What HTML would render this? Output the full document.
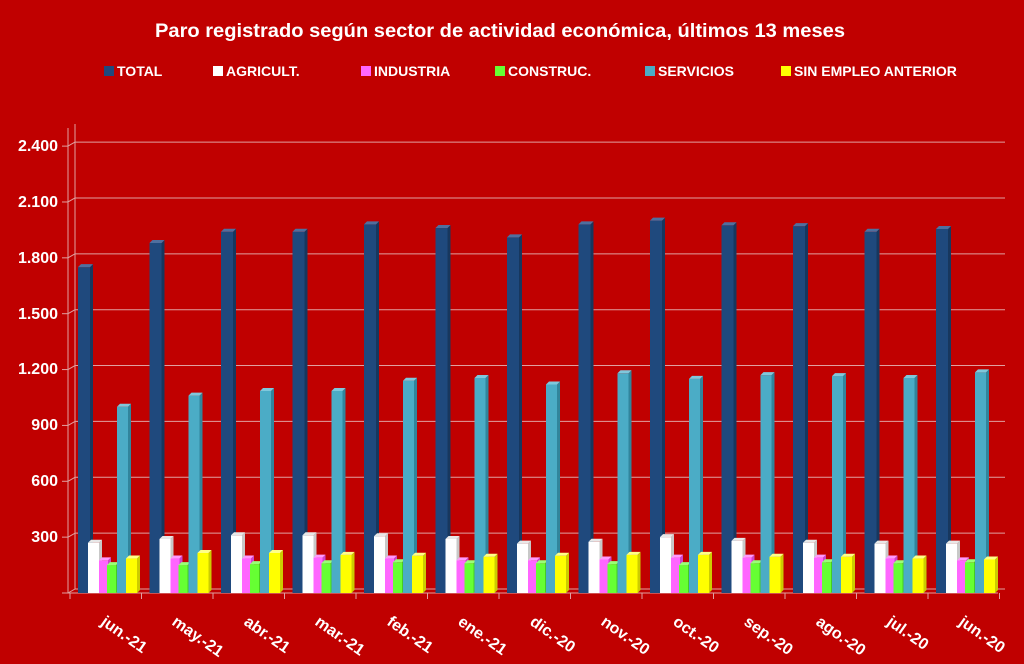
<!DOCTYPE html>
<html><head><meta charset="utf-8"><style>
body{margin:0;background:#c00000;}
svg{display:block;font-family:"Liberation Sans",sans-serif;font-weight:bold;}
</style></head><body>
<svg id="s" width="1024" height="664" viewBox="0 0 1024 664">
<rect width="1024" height="664" fill="#c00000"/>
<text x="500" y="37" fill="#fff" font-size="19.5" text-anchor="middle" textLength="690" lengthAdjust="spacingAndGlyphs">Paro registrado según sector de actividad económica, últimos 13 meses</text>
<g font-size="14" fill="#fff">
<rect x="104" y="66" width="10" height="10" fill="#1f497d"/><text x="117" y="76">TOTAL</text>
<rect x="213" y="66" width="10" height="10" fill="#ffffff"/><text x="226" y="76">AGRICULT.</text>
<rect x="361" y="66" width="10" height="10" fill="#ff66ff"/><text x="374" y="76">INDUSTRIA</text>
<rect x="495" y="66" width="10" height="10" fill="#66ff33"/><text x="508" y="76">CONSTRUC.</text>
<rect x="645" y="66" width="10" height="10" fill="#4bacc6"/><text x="658" y="76">SERVICIOS</text>
<rect x="781" y="66" width="10" height="10" fill="#ffff00"/><text x="794" y="76">SIN EMPLEO ANTERIOR</text>
</g>
<g id="grid" stroke="#e0a0a0" stroke-width="1"></g>
<g font-size="16" fill="#fff" text-anchor="end">
<text x="58" y="151">2.400</text><text x="58" y="207">2.100</text><text x="58" y="263">1.800</text>
<text x="58" y="319">1.500</text><text x="58" y="374">1.200</text><text x="58" y="430">900</text>
<text x="58" y="486">600</text><text x="58" y="542">300</text>
</g>
<g id="bars"></g>
<g font-size="16" fill="#fff">
<text transform="translate(100,624) rotate(35)">jun.-21</text>
<text transform="translate(171,624) rotate(35)">may.-21</text>
<text transform="translate(243,624) rotate(35)">abr.-21</text>
<text transform="translate(314,624) rotate(35)">mar.-21</text>
<text transform="translate(386,624) rotate(35)">feb.-21</text>
<text transform="translate(457,624) rotate(35)">ene.-21</text>
<text transform="translate(529,624) rotate(35)">dic.-20</text>
<text transform="translate(600,624) rotate(35)">nov.-20</text>
<text transform="translate(672,624) rotate(35)">oct.-20</text>
<text transform="translate(743,624) rotate(35)">sep.-20</text>
<text transform="translate(815,624) rotate(35)">ago.-20</text>
<text transform="translate(886,624) rotate(35)">jul.-20</text>
<text transform="translate(958,624) rotate(35)">jun.-20</text>
</g>
</svg>
<script>
const NS="http://www.w3.org/2000/svg";
function el(p,t,a){const e=document.createElementNS(NS,t);for(const k in a)e.setAttribute(k,a[k]);p.appendChild(e);return e;}
const g=document.getElementById('grid'),b=document.getElementById('bars');
const Y=v=>593-v*0.1862;
for(let i=0;i<=8;i++){const y=Y(i*300);
 el(g,'line',{x1:75,y1:y-4,x2:1005,y2:y-4});
 el(g,'line',{x1:68,y1:y,x2:75,y2:y-4});
 el(g,'line',{x1:62,y1:y,x2:68,y2:y});}
el(g,'line',{x1:68,y1:128,x2:68,y2:593});
el(g,'line',{x1:75,y1:124,x2:75,y2:589});
el(g,'line',{x1:68,y1:593,x2:998,y2:593});
for(let i=0;i<=13;i++){const x=70+i*71.5;el(g,'line',{x1:x,y1:593,x2:x,y2:599});}
const T=[1750,1880,1940,1940,1980,1960,1910,1980,2000,1975,1970,1940,1955];
const S=[1000,1060,1085,1085,1140,1155,1120,1180,1150,1170,1165,1155,1185];
const A=[270,290,310,310,305,290,265,275,300,280,270,265,265];
const I=[175,185,185,190,185,175,175,180,190,190,190,185,175];
const C=[150,150,155,160,165,160,160,155,150,160,165,160,165];
const E=[185,215,215,205,200,195,200,205,205,195,195,185,180];
const ser=[[T,8,12,'#1f497d','#17375e','#4f6f9f'],[A,18,11,'#ffffff','#c8c8c8','#e8e8e8'],[I,29,9,'#ff66ff','#cc44cc','#ff99ff'],
[C,37,9,'#66ff33','#44cc22','#99ff77'],[S,47,11,'#4bacc6','#31859c','#7fc8dc'],[E,56,11,'#ffff00','#cccc00','#ffff88']];
for(let k=0;k<13;k++){const gx=70+k*71.5;
 for(const [d,o,w,c,sd,tp] of ser){const x=gx+o,y=Y(d[k]),d3=3;
  el(b,'rect',{x:x,y:y,width:w,height:593-y,fill:c});
  el(b,'polygon',{points:`${x+w},${y} ${x+w+d3},${y-d3} ${x+w+d3},${590} ${x+w},593`,fill:sd});
  el(b,'polygon',{points:`${x},${y} ${x+d3},${y-d3} ${x+w+d3},${y-d3} ${x+w},${y}`,fill:tp});}}
</script>
</body></html>
